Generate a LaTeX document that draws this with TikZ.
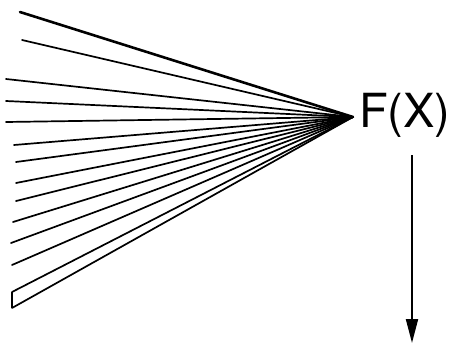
\documentclass[tikz,border=0pt]{standalone}
\usepackage{fontspec}
\setsansfont{TeX Gyre Heros}
\usetikzlibrary{arrows.meta}
\tikzset{
  ray/.style={line width=1.7pt, black, line cap=round},
  mainray/.style={ray, line width=2.6pt},
  tickmark/.style={line width=1.2pt, black},
  fxlabel/.style={font=\sffamily\fontsize{47}{56}\selectfont, inner sep=0pt},
  outarrow/.style={-{Triangle[length=24pt, width=12pt]}, line width=2pt, black}
}
\begin{document}
\begin{tikzpicture}[x=1pt, y=-1pt]
  \useasboundingbox (0,0) rectangle (453,345);
  % point where the rays meet
  \coordinate (focus) at (353,117);
  % left ends of the rays
  \foreach \i/\x/\y in {1/20/12, 2/22/40, 3/6/79, 4/6/101, 5/6/122, 6/14/145,
      7/16/162, 8/16/183, 9/16/201, 10/13/222, 11/11/243, 12/12/265,
      13/12/292, 14/12/308}
    \coordinate (s\i) at (\x,\y);
  \draw[mainray] (s1) -- (focus);
  \foreach \i in {2,...,14}
    \draw[ray] (s\i) -- (focus);
  \draw[tickmark] (s13) -- (s14);
  % output
  \node[fxlabel, anchor=base west] (fx) at (359,128) {F(X)};
  \coordinate (outtop) at (412,155);
  \coordinate (outend) at (412,343);
  \draw[outarrow] (outtop) -- (outend);
\end{tikzpicture}
\end{document}
